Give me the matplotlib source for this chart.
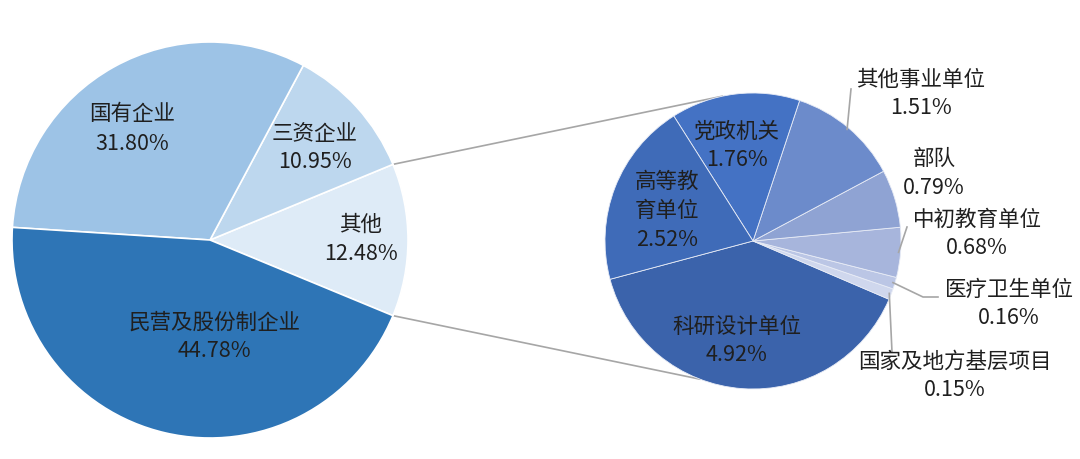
import numpy as np
import matplotlib
matplotlib.use("Agg")
import matplotlib.pyplot as plt

plt.rcParams['font.family'] = ['Noto Sans CJK SC', 'DejaVu Sans']

# main pie (counterclockwise, starting with the slice that is broken out)
main_labels = ["其他", "三资企业", "国有企业", "民营及股份制企业"]
main_values = [12.48, 10.95, 31.80, 44.78]
main_colors = ["#DEEBF7", "#BDD7EE", "#9DC3E6", "#2E75B6"]

# breakdown of "其他"
sub_labels = ["科研设计单位", "国家及地方基层项目", "医疗卫生单位", "中初教育单位",
              "部队", "其他事业单位", "党政机关", "高等教育单位"]
sub_values = [4.92, 0.15, 0.16, 0.68, 0.79, 1.51, 1.76, 2.52]
sub_colors = ["#3B63AB", "#CFD7ED", "#BBC6E5", "#A7B5DC",
              "#8FA3D3", "#6C8BCB", "#4472C4", "#3F6BB8"]

H = 460
TXT = "#1f1f1f"
LINE = "#A6A6A6"
FS = 15.5
GAP = 29

fig = plt.figure(figsize=(10.8, 4.6), dpi=100)
ax = fig.add_axes([0, 0, 1, 1])

c1, r1 = (210, H - 241), 198
c2, r2 = (753, H - 242), 148

w1, _ = ax.pie(main_values, colors=main_colors, center=c1, radius=r1,
               startangle=-main_values[0] * 3.6 / 2, counterclock=True,
               wedgeprops=dict(edgecolor="white", linewidth=1.2))
w2, _ = ax.pie(sub_values, colors=sub_colors, center=c2, radius=r2,
               startangle=195, counterclock=True,
               wedgeprops=dict(edgecolor="#E8ECF6", linewidth=0.6))


def on_circle(c, r, ang):
    a = np.deg2rad(ang)
    return c[0] + r * np.cos(a), c[1] + r * np.sin(a)


# connector lines between the pies
p_top = on_circle(c1, r1, w1[0].theta2)
p_bot = on_circle(c1, r1, w1[0].theta1)
q_top = on_circle(c2, r2, 102)
q_bot = on_circle(c2, r2, 249)
ax.plot([p_top[0], q_top[0]], [p_top[1], q_top[1]], color=LINE, lw=1.2, zorder=0)
ax.plot([p_bot[0], q_bot[0]], [p_bot[1], q_bot[1]], color=LINE, lw=1.2, zorder=0)


def label(x, y, lines):
    n = len(lines)
    for i, s in enumerate(lines):
        yy = H - (y + (i - (n - 1) / 2) * GAP)
        ax.text(x, yy, s, ha="center", va="center", fontsize=FS, color=TXT, zorder=5)


def pct(v):
    return f"{v:.2f}%"


# main pie labels
label(361, 239, [main_labels[0], pct(main_values[0])])
label(315, 148, [main_labels[1], pct(main_values[1])])
label(132, 129, [main_labels[2], pct(main_values[2])])
label(214, 337, [main_labels[3], pct(main_values[3])])

# sub pie labels
label(737, 341, [sub_labels[0], pct(sub_values[0])])
label(955, 376, [sub_labels[1], pct(sub_values[1])])
label(1009, 304, [sub_labels[2], pct(sub_values[2])])
label(977, 234, [sub_labels[3], pct(sub_values[3])])
label(934, 173, [sub_labels[4], pct(sub_values[4])])
label(921, 94, [sub_labels[5], pct(sub_values[5])])
label(737, 146, [sub_labels[6], pct(sub_values[6])])
label(667, 211, ["高等教", "育单位", pct(sub_values[7])])

# leader lines for the outside labels
mids = [(w.theta1 + w.theta2) / 2 for w in w2]
leaders = {
    5: [(851, H - 90)],
    3: [(907, H - 228)],
    2: [(923, H - 298), (938, H - 298)],
    1: [(892, H - 353)],
}
for i, pts in leaders.items():
    s = on_circle(c2, r2 - 2, mids[i])
    xs = [s[0]] + [p[0] for p in pts]
    ys = [s[1]] + [p[1] for p in pts]
    ax.plot(xs, ys, color=LINE, lw=1.2, zorder=4)

ax.set_xlim(0, 1080)
ax.set_ylim(0, H)
ax.set_aspect("equal")
ax.axis("off")
fig.savefig("out.png", dpi=100, facecolor="white")
